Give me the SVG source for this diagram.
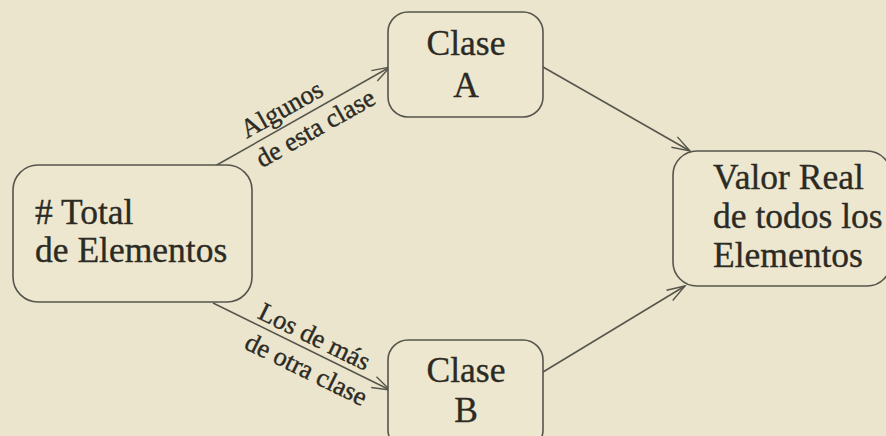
<svg xmlns="http://www.w3.org/2000/svg" width="886" height="436" viewBox="0 0 886 436">
<defs>
<style>
.bg{fill:#ece5cd}
.box{fill:#eee7d0;stroke:#55554b;stroke-width:1.6}
.t{font-family:"Liberation Serif","Times New Roman",serif;font-size:35.5px;fill:#2b2b24;stroke:#2b2b24;stroke-width:0.35}
.lb{font-family:"Liberation Serif","Times New Roman",serif;font-size:26.5px;fill:#2b2b24;stroke:#2b2b24;stroke-width:0.4}
.c{stroke:#55554b;stroke-width:1.5;fill:none;marker-end:url(#arr)}
</style>
<marker id="arr" markerUnits="userSpaceOnUse" markerWidth="24" markerHeight="16" refX="20" refY="7" orient="auto" viewBox="0 0 24 14">
<path d="M2,1 L20,7 L2,13" fill="none" stroke="#55554b" stroke-width="1.4"/>
</marker>
</defs>
<rect class="bg" x="0" y="0" width="886" height="436"/>
<g id="connectors">
<line class="c" x1="215" y1="166" x2="390" y2="67"/>
<line class="c" x1="543" y1="67" x2="690" y2="151"/>
<line class="c" x1="213" y1="303" x2="390" y2="390"/>
<line class="c" x1="543" y1="372" x2="685" y2="286"/>
<g transform="translate(215,166) rotate(-29.5)">
<text class="lb" x="86" y="-8" text-anchor="middle">Algunos</text>
<text class="lb" x="106" y="25" text-anchor="middle">de esta clase</text>
</g>
<g transform="translate(213,303) rotate(26.2)">
<text class="lb" x="106" y="-6" text-anchor="middle">Los de más</text>
<text class="lb" x="113" y="27" text-anchor="middle">de otra clase</text>
</g>
</g>
<g id="total">
<rect class="box" x="13" y="165" width="239" height="137" rx="25"/>
<text class="t" x="35" y="224"># Total</text>
<text class="t" x="35" y="262">de Elementos</text>
</g>
<g id="claseA">
<rect class="box" x="388" y="12" width="155" height="105" rx="20"/>
<text class="t" x="466" y="55" text-anchor="middle">Clase</text>
<text class="t" x="466" y="97" text-anchor="middle">A</text>
</g>
<g id="valor">
<rect class="box" x="673" y="151" width="218" height="135" rx="24"/>
<text class="t" x="713" y="189">Valor Real</text>
<text class="t" x="713" y="228">de todos los</text>
<text class="t" x="713" y="267">Elementos</text>
</g>
<g id="claseB">
<rect class="box" x="388" y="340" width="155" height="110" rx="20"/>
<text class="t" x="466" y="382" text-anchor="middle">Clase</text>
<text class="t" x="466" y="422" text-anchor="middle">B</text>
</g>
</svg>
